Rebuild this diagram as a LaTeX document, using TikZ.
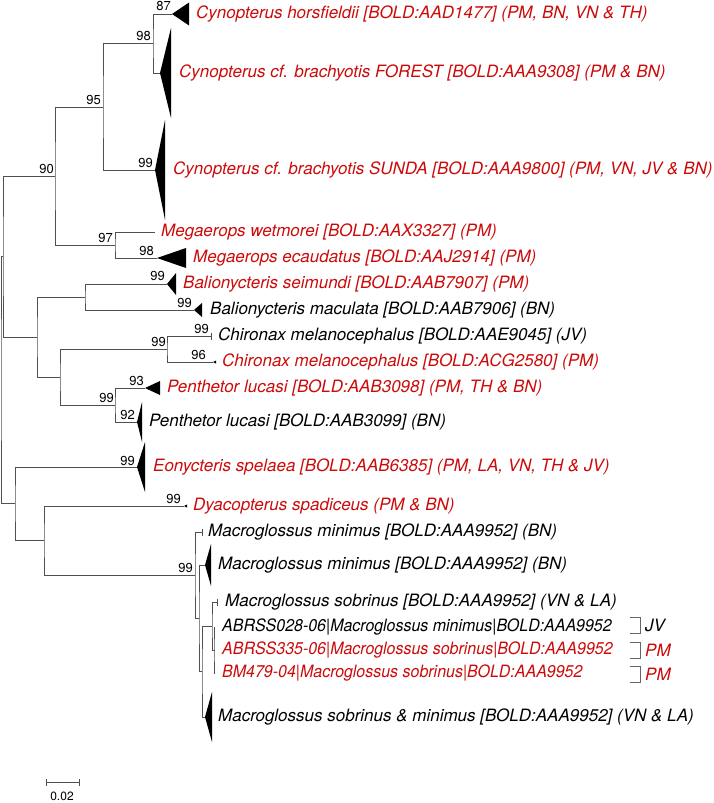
\documentclass[tikz,border=0pt]{standalone}
\usepackage{fontspec}
\setmainfont{TeX Gyre Heros}
\newfontfamily\condfont[FakeStretch=0.94]{TeX Gyre Heros}
\definecolor{taxred}{RGB}{204,10,10}
\definecolor{treegray}{RGB}{80,80,80}
% collapsed clade: tip, width, half height
\newcommand{\clade}[3]{\fill (#1) -- ++(#2,#3) -- ++(0,-2*#3) -- cycle;}
% single sequence tick
\newcommand{\tick}[1]{\draw[branch] (#1) ++(0,-3.5) -- ++(0,7);}

\begin{document}
\begin{tikzpicture}[x=1pt,y=-1pt,
        branch/.style={draw=treegray, line width=0.95pt},
        taxon/.style={anchor=west, inner sep=0pt, font=\fontsize{17}{17}\selectfont\itshape},
        redtaxon/.style={taxon, text=taxred},
        seqid/.style={anchor=west, inner sep=0pt, font=\condfont\fontsize{17}{17}\selectfont\itshape},
        boot/.style={anchor=south east, inner sep=0pt, font=\fontsize{13}{13}\selectfont},
        brk/.style={draw=black!60, line width=0.9pt}
    ]
        \useasboundingbox (0,0) rectangle (714,803);

        % inner nodes
        \coordinate (root) at (1,380);
        \coordinate (ab) at (3,256);
        \coordinate (n90) at (55,176);
        \coordinate (n95) at (103,107);
        \coordinate (n98) at (153,43);
        \coordinate (n97) at (115,245);
        \coordinate (bb) at (37,337);
        \coordinate (bal) at (85,297);
        \coordinate (bb2) at (60,377);
        \coordinate (chir) at (167,349);
        \coordinate (pent) at (115,405);
        \coordinate (cc) at (15,503);
        \coordinate (cc2) at (44,540);
        \coordinate (mac) at (195,575);
        \coordinate (mx1) at (199,618);
        \coordinate (mx2) at (202,671);
        \coordinate (mx3) at (212,626);
        \coordinate (mx4) at (214,650);

        % leaves
        \coordinate (horsf) at (172,14);
        \coordinate (forest) at (160,73);
        \coordinate (sunda) at (155,170);
        \coordinate (wetm) at (155,232);
        \coordinate (ecau) at (157,258);
        \coordinate (seim) at (167,284);
        \coordinate (macu) at (194,310);
        \coordinate (chirjv) at (211,336);
        \coordinate (chirpm) at (213,362);
        \coordinate (pentr) at (145,388);
        \coordinate (pentb) at (137,422);
        \coordinate (eony) at (137,467);
        \coordinate (dyac) at (184,506);
        \coordinate (macmin) at (202,532);
        \coordinate (macmintwo) at (205,565);
        \coordinate (macsob) at (217,602);
        \coordinate (ind1) at (215,627);
        \coordinate (ind2) at (215,650);
        \coordinate (ind3) at (215,673);
        \coordinate (macsm) at (205,717);

        % branches
        \draw[branch] (ab) -| (root) |- (cc);
        \draw[branch] (n90) -| (ab) |- (bb);
        \draw[branch] (n95) -| (n90) |- (n97);
        \draw[branch] (n98) -| (n95) |- (sunda);
        \draw[branch] (horsf) -| (n98) |- (forest);
        \draw[branch] (wetm) -| (n97) |- (ecau);
        \draw[branch] (bal) -| (bb) |- (bb2);
        \draw[branch] (seim) -| (bal) |- (macu);
        \draw[branch] (chir) -| (bb2) |- (pent);
        \draw[branch] (chirjv) -| (chir) |- (chirpm);
        \draw[branch] (pentr) -| (pent) |- (pentb);
        \draw[branch] (eony) -| (cc) |- (cc2);
        \draw[branch] (dyac) -| (cc2) |- (mac);
        \draw[branch] (macmin) -| (mac) |- (mx1);
        \draw[branch] (macmintwo) -| (mx1) |- (mx2);
        \draw[branch] (mx3) -| (mx2) |- (macsm);
        \draw[branch] (macsob) -| (mx3) |- (mx4);
        \draw[branch] (ind1) -| (mx4) |- (ind3);
        \draw[branch] (mx4) -- (ind2);

        % collapsed clades
        \clade{horsf}{17}{11.5}
        \clade{forest}{11}{45}
        \clade{sunda}{10}{50}
        \clade{ecau}{29}{10}
        \clade{seim}{9}{11}
        \clade{macu}{8}{7}
        \clade{chirpm}{3}{1.5}
        \clade{pentr}{15}{7}
        \clade{pentb}{5}{20}
        \clade{eony}{8}{25}
        \clade{dyac}{3}{1.5}
        \clade{macmintwo}{6}{21}
        \clade{macsm}{7}{25}
        \tick{chirjv}
        \tick{macmin}
        \tick{macsob}

        % bootstrap values
        \node[boot] (b87) at (171,11) {87};
        \node[boot] (b98a) at (151,41) {98};
        \node[boot] (b95) at (101,105) {95};
        \node[boot] (b90) at (54,174) {90};
        \node[boot] (b99a) at (153,168) {99};
        \node[boot] (b97) at (113,243) {97};
        \node[boot] (b98b) at (154,256) {98};
        \node[boot] (b99b) at (165,281) {99};
        \node[boot] (b99c) at (192,308) {99};
        \node[boot] (b99d) at (166,347) {99};
        \node[boot] (b99e) at (209,334) {99};
        \node[boot] (b96) at (206,360) {96};
        \node[boot] (b93) at (144,386) {93};
        \node[boot] (b99f) at (114,403) {99};
        \node[boot] (b92) at (135,420) {92};
        \node[boot] (b99g) at (135,466) {99};
        \node[boot] (b99h) at (181,504) {99};
        \node[boot] (b99i) at (193,573) {99};

        % taxa
        \node[redtaxon] (thorsf) at (196,14) {Cynopterus horsfieldii [BOLD:AAD1477] (PM, BN, VN \& TH)};
        \node[redtaxon] (tforest) at (179,73) {Cynopterus cf. brachyotis FOREST [BOLD:AAA9308] (PM \& BN)};
        \node[redtaxon] (tsunda) at (173,170) {Cynopterus cf. brachyotis SUNDA [BOLD:AAA9800] (PM, VN, JV \& BN)};
        \node[redtaxon] (twetm) at (161,232) {Megaerops wetmorei [BOLD:AAX3327] (PM)};
        \node[redtaxon] (tecau) at (193,258) {Megaerops ecaudatus [BOLD:AAJ2914] (PM)};
        \node[redtaxon] (tseim) at (183,284) {Balionycteris seimundi [BOLD:AAB7907] (PM)};
        \node[taxon] (tmacu) at (210,310) {Balionycteris maculata [BOLD:AAB7906] (BN)};
        \node[taxon] (tchirjv) at (218,336) {Chironax melanocephalus [BOLD:AAE9045] (JV)};
        \node[redtaxon] (tchirpm) at (222,362) {Chironax melanocephalus [BOLD:ACG2580] (PM)};
        \node[redtaxon] (tpentr) at (167,388) {Penthetor lucasi [BOLD:AAB3098] (PM, TH \& BN)};
        \node[taxon] (tpentb) at (149,422) {Penthetor lucasi [BOLD:AAB3099] (BN)};
        \node[redtaxon] (teony) at (153,467) {Eonycteris spelaea [BOLD:AAB6385] (PM, LA, VN, TH \& JV)};
        \node[redtaxon] (tdyac) at (193,506) {Dyacopterus spadiceus (PM \& BN)};
        \node[taxon] (tmacmin) at (208,532) {Macroglossus minimus [BOLD:AAA9952] (BN)};
        \node[taxon] (tmacmintwo) at (218,565) {Macroglossus minimus [BOLD:AAA9952] (BN)};
        \node[taxon] (tmacsob) at (225,602) {Macroglossus sobrinus [BOLD:AAA9952] (VN \& LA)};
        \node[seqid] (tind1) at (222,627) {ABRSS028-06|Macroglossus minimus|BOLD:AAA9952};
        \node[seqid, text=taxred] (tind2) at (222,650) {ABRSS335-06|Macroglossus sobrinus|BOLD:AAA9952};
        \node[seqid, text=taxred] (tind3) at (222,673) {BM479-04|Macroglossus sobrinus|BOLD:AAA9952};
        \node[taxon] (tmacsm) at (218,717) {Macroglossus sobrinus \& minimus [BOLD:AAA9952] (VN \& LA)};

        % country brackets
        \draw[brk] (630,617) -- (640,617) -- (640,633) -- (630,633);
        \draw[brk] (630,642) -- (640,642) -- (640,658) -- (630,658);
        \draw[brk] (630,666) -- (640,666) -- (640,682) -- (630,682);
        \node[taxon] (cjv) at (645,625) {JV};
        \node[redtaxon] (cpm1) at (645,650) {PM};
        \node[redtaxon] (cpm2) at (645,674) {PM};

        % scale bar
        \coordinate (sba) at (46,782);
        \coordinate (sbb) at (79,782);
        \draw[branch] (sba) -- (sbb);
        \draw[branch] (sba) ++(0,-3.5) -- ++(0,7);
        \draw[branch] (sbb) ++(0,-3.5) -- ++(0,7);
        \node[inner sep=0pt, font=\fontsize{12}{12}\selectfont] (sblab) at (62,796) {0.02};

    \end{tikzpicture}
\end{document}
